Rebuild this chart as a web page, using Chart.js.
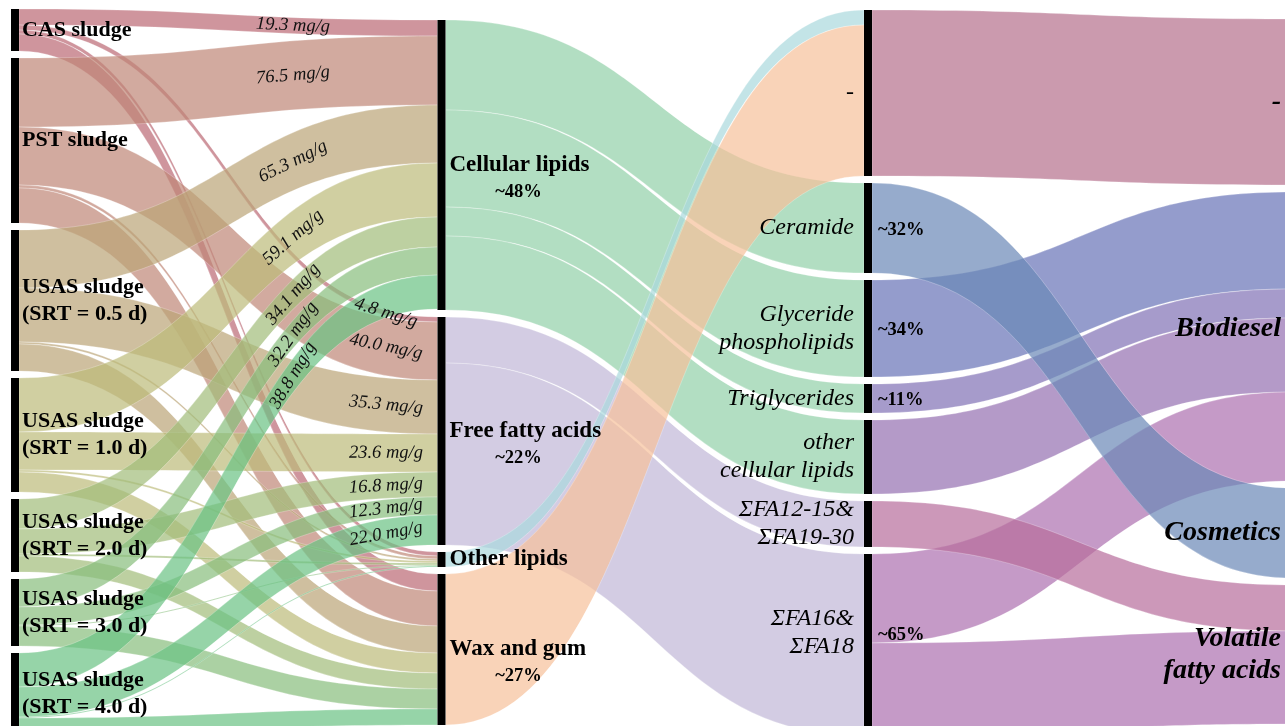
<!DOCTYPE html>
<html>
<head>
<meta charset="utf-8">
<title>Lipid flows from sludge to products</title>
<script src="https://cdn.jsdelivr.net/npm/chart.js@4"></script>
<style>
  body { margin: 0; background: #fff; }
  #wrap { width: 1285px; height: 726px; }
</style>
</head>
<body>
<div id="wrap"><canvas id="myChart"></canvas></div>
<script>
    // ---- data (flow widths in diagram units) ----
    const sludges = ['CAS sludge', 'PST sludge', 'USAS sludge\n(SRT = 0.5 d)', 'USAS sludge\n(SRT = 1.0 d)',
        'USAS sludge\n(SRT = 2.0 d)', 'USAS sludge\n(SRT = 3.0 d)', 'USAS sludge\n(SRT = 4.0 d)'];
    const lipidClasses = ['Cellular lipids', 'Free fatty acids', 'Other lipids', 'Wax and gum'];
    const classShares = ['~48%', '~22%', '', '~27%'];
    const lipidSpecies = ['-', 'Ceramide', 'Glyceride\nphospholipids', 'Triglycerides', 'other\ncellular lipids',
        'ΣFA12-15&\nΣFA19-30', 'ΣFA16&\nΣFA18'];
    const speciesShares = ['', '~32%', '~34%', '~11%', '', '', '~65%'];
    const products = ['-', 'Biodiesel', 'Cosmetics', 'Volatile\nfatty acids'];

    // sludge -> lipid class
    const toCellular = [16, 69, 58, 54, 30, 28, 34];
    const toFreeFattyAcids = [5, 58, 54, 38, 25, 18, 30];
    const toOtherLipids = [4, 3, 2, 2, 2, 1, 1];
    const toWaxAndGum = [17, 35, 27, 20, 16, 20, 16];
    const cellularLabels = ['19.3 mg/g', '76.5 mg/g', '65.3 mg/g', '59.1 mg/g', '34.1 mg/g', '32.2 mg/g', '38.8 mg/g'];
    const ffaLabels = ['4.8 mg/g', '40.0 mg/g', '35.3 mg/g', '23.6 mg/g', '16.8 mg/g', '12.3 mg/g', '22.0 mg/g'];

    // lipid class -> lipid species (indexed by species)
    const fromCellular = [0, 90, 97, 29, 74, 0, 0];
    const fromFreeFattyAcids = [0, 0, 0, 0, 0, 46, 182];
    const fromOtherLipids = [15, 0, 0, 0, 0, 0, 0];
    const fromWaxAndGum = [151, 0, 0, 0, 0, 0, 0];

    // lipid species -> product (indexed by species)
    const toNone = [166, 0, 0, 0, 0, 0, 0];
    const toBiodiesel = [0, 0, 97, 29, 74, 0, 89];
    const toCosmetics = [0, 90, 0, 0, 0, 0, 0];
    const toVolatileFA = [0, 0, 0, 0, 0, 46, 93];

    // ---- colours (as they look over white) ----
    const sludgeColors = ['#cf959d', '#d2aa9f', '#cfbf9f', '#d0cfa1', '#bdd0a1', '#acd1a3', '#97d4a8'];
    const classColors = ['#b3dec2', '#d3cce3', '#c3e4e7', '#f9d3b8'];
    const speciesColors = ['#cb9aae', '#96abcc', '#949ccc', '#a69bcb', '#b49ac8', '#cc98b9', '#c59ac7'];
    const linkAlpha = 0.7;

    const serif = '"Liberation Serif", "Times New Roman", serif';
    const colTop = [9, 20, 10, 19];
    const nodePad = 7;
    const nodeWidth = 8;

    function fade(hex, a) {
        const n = parseInt(hex.slice(1), 16);
        const ch = [n >> 16, (n >> 8) & 255, n & 255].map(v => Math.round(255 - (255 - v) / a));
        return 'rgba(' + ch.join(',') + ',' + a + ')';
    }

    // build nodes and links, then stack them column by column
    const columns = [sludges, lipidClasses, lipidSpecies, products];
    const nodes = columns.map((names, c) => names.map((name, i) => ({ c, i, name, ins: [], outs: [] })));
    const links = [];

    function addLink(c, si, ti, v, color, label) {
        if (!v) return;
        const l = { s: nodes[c][si], t: nodes[c + 1][ti], v, color: fade(color, linkAlpha), label };
        l.s.outs.push(l);
        l.t.ins.push(l);
        links.push(l);
    }

    sludges.forEach((_, i) => {
        addLink(0, i, 0, toCellular[i], sludgeColors[i], cellularLabels[i]);
        addLink(0, i, 1, toFreeFattyAcids[i], sludgeColors[i], ffaLabels[i]);
        addLink(0, i, 2, toOtherLipids[i], sludgeColors[i]);
        addLink(0, i, 3, toWaxAndGum[i], sludgeColors[i]);
    });
    [fromCellular, fromFreeFattyAcids, fromOtherLipids, fromWaxAndGum].forEach((arr, ci) => {
        arr.forEach((v, si) => addLink(1, ci, si, v, classColors[ci]));
    });
    [toNone, toBiodiesel, toCosmetics, toVolatileFA].forEach((arr, pi) => {
        arr.forEach((v, si) => addLink(2, si, pi, v, speciesColors[si]));
    });

    nodes.forEach((col, c) => {
        let y = colTop[c];
        col.forEach(n => {
            const vin = n.ins.reduce((a, l) => a + l.v, 0);
            const vout = n.outs.reduce((a, l) => a + l.v, 0);
            n.value = Math.max(vin, vout);
            n.y0 = y;
            n.y1 = y + n.value;
            y = n.y1 + nodePad;
            let o = n.y0;
            n.outs.sort((a, b) => a.t.i - b.t.i).forEach(l => { l.sy = o; o += l.v; });
            o = n.y0;
            n.ins.sort((a, b) => a.s.i - b.s.i).forEach(l => { l.ty = o; o += l.v; });
        });
    });

    const nodeCenters = [].concat(...nodes).map(n => ({ x: n.c, y: (n.y0 + n.y1) / 2 }));

    // small label nudges (pixels)
    const speciesDy = [0, 0, 0, 0, 0, 0, -12];
    const productDy = [0, -8, 0, 0];
    const linkLabelX = [293, 386];

    function drawLines(ctx, text, x, cy, lh) {
        const lines = text.split('\n');
        lines.forEach((t, k) => ctx.fillText(t, x, cy + (k - (lines.length - 1) / 2) * lh));
    }

    const sankeyPlugin = {
        id: 'sankey',
        afterDatasetsDraw(chart) {
            const { ctx, scales: { x, y } } = chart;
            ctx.save();

            // links
            links.forEach(l => {
                const x0 = x.getPixelForValue(l.s.c) + nodeWidth;
                const x1 = x.getPixelForValue(l.t.c);
                const xm = (x0 + x1) / 2;
                const a0 = y.getPixelForValue(l.sy), a1 = y.getPixelForValue(l.sy + l.v);
                const b0 = y.getPixelForValue(l.ty), b1 = y.getPixelForValue(l.ty + l.v);
                ctx.beginPath();
                ctx.moveTo(x0, a0);
                ctx.bezierCurveTo(xm, a0, xm, b0, x1, b0);
                ctx.lineTo(x1, b1);
                ctx.bezierCurveTo(xm, b1, xm, a1, x0, a1);
                ctx.closePath();
                ctx.fillStyle = l.color;
                ctx.fill();
                ctx.strokeStyle = 'rgba(255,255,255,0.5)';
                ctx.lineWidth = 0.5;
                ctx.stroke();
            });

            // nodes
            ctx.fillStyle = '#000';
            nodes.forEach(col => col.forEach(n => {
                const px = x.getPixelForValue(n.c);
                const top = y.getPixelForValue(n.y0);
                ctx.fillRect(px, top, nodeWidth, y.getPixelForValue(n.y1) - top);
            }));

            // link value labels, laid along the band
            ctx.fillStyle = '#111';
            ctx.font = 'italic 18.5px ' + serif;
            ctx.textAlign = 'center';
            ctx.textBaseline = 'middle';
            links.filter(l => l.label).forEach(l => {
                const x0 = x.getPixelForValue(l.s.c) + nodeWidth;
                const x1 = x.getPixelForValue(l.t.c);
                const D = x1 - x0;
                const ya = y.getPixelForValue(l.sy + l.v / 2);
                const yb = y.getPixelForValue(l.ty + l.v / 2);
                const target = ((l.t.i === 0 ? linkLabelX[0] : linkLabelX[1]) - x0) / D;
                let lo = 0, hi = 1;
                for (let k = 0; k < 40; k++) {
                    const t = (lo + hi) / 2;
                    if (1.5 * t * (1 - t) + t * t * t < target) lo = t; else hi = t;
                }
                const t = (lo + hi) / 2;
                const py = ya + (yb - ya) * (3 * t * t - 2 * t * t * t);
                const dy = (yb - ya) * 6 * t * (1 - t);
                const dx = D * (1.5 * (1 - 2 * t) + 3 * t * t);
                ctx.save();
                ctx.translate(x0 + D * target, py);
                ctx.rotate(Math.atan2(dy, dx) * 1.12);
                ctx.fillText(l.label, 0, 0);
                ctx.restore();
            });

            // node labels
            ctx.fillStyle = '#000';
            nodes[0].forEach(n => {
                ctx.font = 'bold 22px ' + serif;
                ctx.textAlign = 'left';
                drawLines(ctx, n.name, x.getPixelForValue(0) + nodeWidth + 3, y.getPixelForValue((n.y0 + n.y1) / 2), 27);
            });
            nodes[1].forEach(n => {
                const cy = y.getPixelForValue((n.y0 + n.y1) / 2);
                const px = x.getPixelForValue(1) + nodeWidth;
                ctx.font = 'bold 23px ' + serif;
                ctx.textAlign = 'left';
                ctx.fillText(n.name, px + 4, cy);
                if (classShares[n.i]) {
                    ctx.font = 'bold 18.5px ' + serif;
                    ctx.textAlign = 'center';
                    ctx.fillText(classShares[n.i], px + 73, cy + 27);
                }
            });
            nodes[2].forEach(n => {
                const cy = y.getPixelForValue((n.y0 + n.y1) / 2) + speciesDy[n.i];
                const px = x.getPixelForValue(2);
                ctx.font = 'italic 24px ' + serif;
                ctx.textAlign = 'right';
                drawLines(ctx, n.name, px - 10, cy, 28);
                if (speciesShares[n.i]) {
                    ctx.font = 'bold 18.5px ' + serif;
                    ctx.textAlign = 'left';
                    ctx.fillText(speciesShares[n.i], px + nodeWidth + 6, cy + 2);
                }
            });
            nodes[3].forEach(n => {
                const cy = y.getPixelForValue((n.y0 + n.y1) / 2) + productDy[n.i];
                ctx.font = 'bold italic 28px ' + serif;
                ctx.textAlign = 'right';
                drawLines(ctx, n.name, chart.chartArea.right - 4, cy, 32);
            });

            ctx.restore();
        }
    };

    const ctx = document.getElementById('myChart').getContext('2d');
    const chart = new Chart(ctx, {
        type: 'scatter',
        data: {
            datasets: [{ label: 'nodes', data: nodeCenters, pointRadius: 0 }],
        },
        options: {
            responsive: true,
            maintainAspectRatio: false,
            animation: false,
            layout: { padding: 0 },
            plugins: { legend: { display: false }, tooltip: { enabled: false } },
            scales: {
                x: { type: 'linear', display: false, min: -0.0258, max: 2.9871 },
                y: { type: 'linear', display: false, min: 0, max: 726, reverse: true },
            },
        },
        plugins: [sankeyPlugin],
    });
</script>
</body>
</html>
